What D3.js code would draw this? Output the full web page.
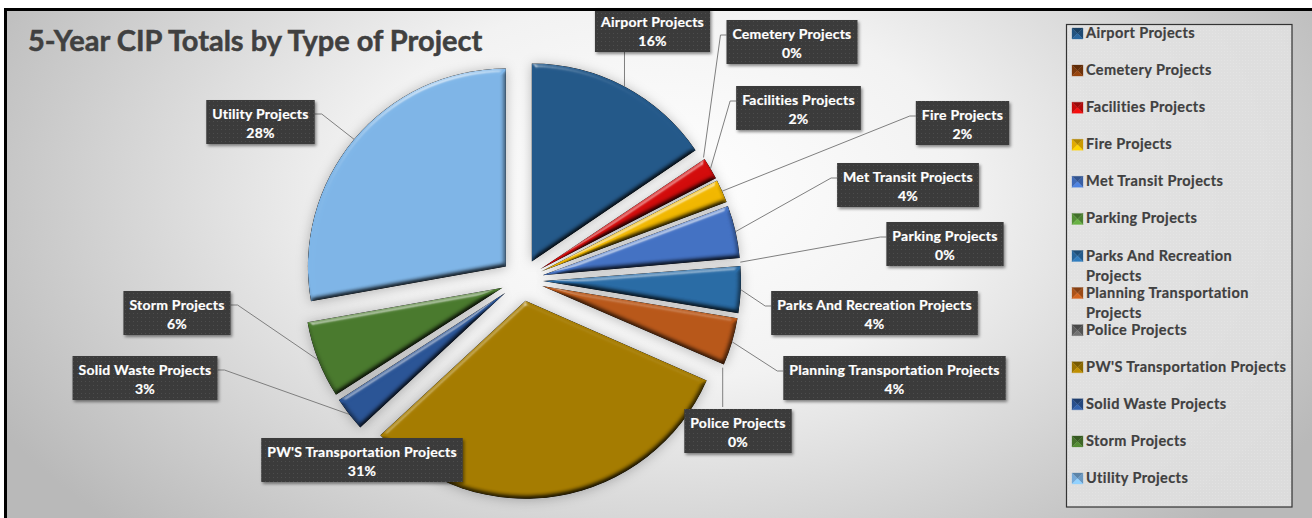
<!DOCTYPE html>
<html>
<head>
<meta charset="utf-8">
<script src="https://cdn.jsdelivr.net/npm/d3@7"></script>
<style>
html, body { margin: 0; padding: 0; background: #fff; }
svg { display: block; font-family: Lato, "Open Sans", sans-serif; font-weight: 700; font-variant-ligatures: none; }
</style>
</head>
<body>
<svg id="chart" width="1312" height="518"></svg>
<script>
var title = '5-Year CIP Totals by Type of Project';

var categories = ['Airport Projects', 'Cemetery Projects', 'Facilities Projects', 'Fire Projects',
    'Met Transit Projects', 'Parking Projects', 'Parks And Recreation Projects',
    'Planning Transportation Projects', 'Police Projects', "PW'S Transportation Projects",
    'Solid Waste Projects', 'Storm Projects', 'Utility Projects'];

// percent of total, estimated from the slice corners
var values = [15.5, 0.1, 1.8, 1.9, 4.3, 0.2, 3.8, 3.9, 0.1, 31.49, 2.8, 6.3, 27.8];

var sliceColors = ['#24598a', '#843c0c', '#d40c0c', '#f2b800', '#4472c4', '#5a9a3a', '#2a6ca6',
    '#b9581a', '#636363', '#a67c00', '#2b5597', '#4a7a2e', '#7fb6e8'];

// wrapped legend text, the rest fits on one line
var legendLines = {
    'Parks And Recreation Projects': ['Parks And Recreation', 'Projects'],
    'Planning Transportation Projects': ['Planning Transportation', 'Projects']
};

// callout boxes: centre x, top y of the box, side the leader leaves from
var calloutSpots = [
    [652.5, 8, 'bottom'], [792, 20, 'left'], [798.5, 86, 'left'], [962.5, 101, 'left'],
    [908, 163, 'left'], [945, 222, 'left'], [874.5, 291, 'left'], [894.5, 356, 'left'],
    [738, 409, 'top'], [362, 438, 'none'], [145, 356, 'right'], [177, 291, 'right'], [260.5, 100, 'right']
];

var width = 1312, height = 518;
var cx = 522, cy = 280, radius = 198, explode = 21;

var svg = d3.select('#chart');
var defs = svg.append('defs');

var bg = defs.append('radialGradient').attr('id', 'bgGrad')
    .attr('gradientUnits', 'userSpaceOnUse')
    .attr('cx', 0).attr('cy', 0).attr('r', 1)
    .attr('gradientTransform', 'translate(660,190) scale(760,480)');
bg.append('stop').attr('offset', 0).attr('stop-color', '#ffffff');
bg.append('stop').attr('offset', 0.4).attr('stop-color', '#f2f2f2');
bg.append('stop').attr('offset', 1).attr('stop-color', '#b9b9b9');

// dotted texture used by callouts
var dots = defs.append('pattern').attr('id', 'dots').attr('width', 4).attr('height', 4)
    .attr('patternUnits', 'userSpaceOnUse');
dots.append('rect').attr('width', 4).attr('height', 4).attr('fill', '#3b3b3b');
dots.append('rect').attr('x', 1).attr('y', 1).attr('width', 1).attr('height', 1).attr('fill', '#4d4d4d');

var legendDots = defs.append('pattern').attr('id', 'legendDots').attr('width', 3).attr('height', 3)
    .attr('patternUnits', 'userSpaceOnUse');
legendDots.append('rect').attr('width', 1).attr('height', 1).attr('fill', '#ffffff').attr('opacity', 0.16);

// bevel: lit from upper left, dark on lower right
var bevel = defs.append('filter').attr('id', 'bevel')
    .attr('x', '-20%').attr('y', '-20%').attr('width', '140%').attr('height', '140%')
    .attr('color-interpolation-filters', 'sRGB');
bevel.append('feGaussianBlur').attr('in', 'SourceAlpha').attr('stdDeviation', 2.6).attr('result', 'blur');
bevel.append('feDiffuseLighting').attr('in', 'blur').attr('surfaceScale', 2.4)
    .attr('diffuseConstant', 1.41).attr('lighting-color', '#fff').attr('result', 'diff')
    .append('feDistantLight').attr('azimuth', 250).attr('elevation', 45);
bevel.append('feComposite').attr('in', 'SourceGraphic').attr('in2', 'diff')
    .attr('operator', 'arithmetic').attr('k1', 1).attr('k2', 0).attr('k3', 0).attr('k4', 0)
    .attr('result', 'shaded');
bevel.append('feSpecularLighting').attr('in', 'blur').attr('surfaceScale', 3.4)
    .attr('specularConstant', 0.55).attr('specularExponent', 26).attr('lighting-color', '#fff')
    .attr('result', 'spec')
    .append('feDistantLight').attr('azimuth', 250).attr('elevation', 20);
bevel.append('feComposite').attr('in', 'spec').attr('in2', 'SourceAlpha')
    .attr('operator', 'in').attr('result', 'specIn');
bevel.append('feComposite').attr('in', 'shaded').attr('in2', 'SourceAlpha')
    .attr('operator', 'in').attr('result', 'shadedIn');
bevel.append('feDropShadow').attr('in', 'SourceAlpha').attr('dx', 0).attr('dy', 1)
    .attr('stdDeviation', 6).attr('flood-color', '#000').attr('flood-opacity', 0.26)
    .attr('result', 'shadow');
var bm = bevel.append('feMerge');
bm.append('feMergeNode').attr('in', 'shadow');
bm.append('feMergeNode').attr('in', 'shadedIn');
bm.append('feMergeNode').attr('in', 'specIn');

var boxShadow = defs.append('filter').attr('id', 'boxShadow')
    .attr('x', '-10%').attr('y', '-20%').attr('width', '120%').attr('height', '150%');
boxShadow.append('feDropShadow').attr('dx', 1.5).attr('dy', 2)
    .attr('stdDeviation', 1.5).attr('flood-color', '#000').attr('flood-opacity', 0.45);

// chart area
svg.append('rect').attr('x', 5.5).attr('y', 9.5).attr('width', width).attr('height', height)
    .attr('fill', 'url(#bgGrad)');

svg.append('text').attr('x', 28).attr('y', 51).attr('font-size', 29)
    .attr('fill', '#404040').attr('stroke', '#404040').attr('stroke-width', 0.5).text(title);

// pie
var rows = categories.map(function(name, i) {
    return { name: name, value: values[i], color: sliceColors[i], spot: calloutSpots[i] };
});

var pie = d3.pie().sort(null).value(function(d) { return d.value; });
var arc = d3.arc().innerRadius(0).outerRadius(radius);
var arcs = pie(rows);

function midAngle(d) { return (d.startAngle + d.endAngle) / 2; }
function apex(d) {
    var a = midAngle(d);
    return [cx + explode * Math.sin(a), cy - explode * Math.cos(a)];
}
function rim(d) {
    var a = midAngle(d), p = apex(d);
    return [p[0] + radius * Math.sin(a), p[1] - radius * Math.cos(a)];
}

svg.append('g').selectAll('path')
    .data(arcs.filter(function(d) { return d.data.value >= 1; }))
    .join('path')
    .attr('transform', function(d) { return 'translate(' + apex(d) + ')'; })
    .attr('d', arc)
    .attr('fill', function(d) { return d.data.color; })
    .attr('filter', 'url(#bevel)');

// callouts
var leaders = svg.append('g').attr('fill', 'none').attr('stroke', '#7f7f7f').attr('stroke-width', 1);
var callouts = svg.append('g');

arcs.forEach(function(d) {
    var s = d.data.spot;
    var g = callouts.append('g');
    var t = g.append('text').attr('text-anchor', 'middle').attr('fill', '#fff')
        .attr('font-size', 14).attr('letter-spacing', 0.25)
        .attr('stroke', '#fff').attr('stroke-width', 0.2);
    var first = t.append('tspan').attr('x', s[0]).attr('y', s[1] + 19).text(d.data.name);
    t.append('tspan').attr('x', s[0]).attr('y', s[1] + 38).text(Math.round(d.data.value) + '%');
    var bw = first.node().getComputedTextLength() + 12, bh = 44;
    var left = s[0] - bw / 2;
    g.insert('rect', 'text').attr('x', left).attr('y', s[1]).attr('width', bw).attr('height', bh)
        .attr('fill', 'url(#dots)').attr('filter', 'url(#boxShadow)');

    var end = rim(d), pts = null;
    if (s[2] === 'left') pts = [[left, s[1] + 15], [left - 6, s[1] + 15], end];
    if (s[2] === 'right') pts = [[left + bw, s[1] + 14], [left + bw + 7, s[1] + 14], end];
    if (s[2] === 'top') pts = [[end[0], s[1] - 2], [end[0], s[1] - 3], end];
    if (s[2] === 'bottom') pts = [[end[0], s[1] + bh], end];
    if (pts) leaders.append('path').attr('d', d3.line()(pts));
});

// legend
var legend = svg.append('g');
legend.append('rect').attr('x', 1066.5).attr('y', 24.5).attr('width', 225.5).attr('height', 482.5)
    .attr('fill', '#e2e2e2').attr('fill-opacity', 0.85).attr('stroke', '#333').attr('stroke-width', 1.2);
legend.append('rect').attr('x', 1067).attr('y', 25).attr('width', 225).attr('height', 482)
    .attr('fill', 'url(#legendDots)');

var legendY = d3.scalePoint().domain(categories).range([33, 478]);

rows.forEach(function(r) {
    var y = legendY(r.name);
    var g = legend.append('g').attr('transform', 'translate(1072,' + (y - 5) + ')');
    var size = 11, c = d3.color(r.color);
    // four bevelled faces of the swatch
    var faces = [
        [[0, 0], [size, 0], [size / 2, size / 2], c.darker(0.9)],
        [[0, 0], [0, size], [size / 2, size / 2], c.darker(0.2)],
        [[size, 0], [size, size], [size / 2, size / 2], c.darker(0.5)],
        [[0, size], [size, size], [size / 2, size / 2], c.brighter(0.4)]
    ];
    faces.forEach(function(f) {
        g.append('path').attr('d', d3.line()(f.slice(0, 3)) + 'Z').attr('fill', f[3]).attr('stroke', f[3]).attr('stroke-width', 0.3);
    });
    var lines = legendLines[r.name] || [r.name];
    lines.forEach(function(line, i) {
        legend.append('text').attr('x', 1086).attr('y', y + 5 + i * 20)
            .attr('font-size', 14.5).attr('letter-spacing', 0.4)
            .attr('fill', '#404040').attr('stroke', '#404040').attr('stroke-width', 0.2).text(line);
    });
});

// frame goes last so it clips the top callout
svg.append('rect').attr('x', 5.5).attr('y', 9.5).attr('width', width).attr('height', height)
    .attr('fill', 'none').attr('stroke', '#000').attr('stroke-width', 3);
</script>
</body>
</html>
